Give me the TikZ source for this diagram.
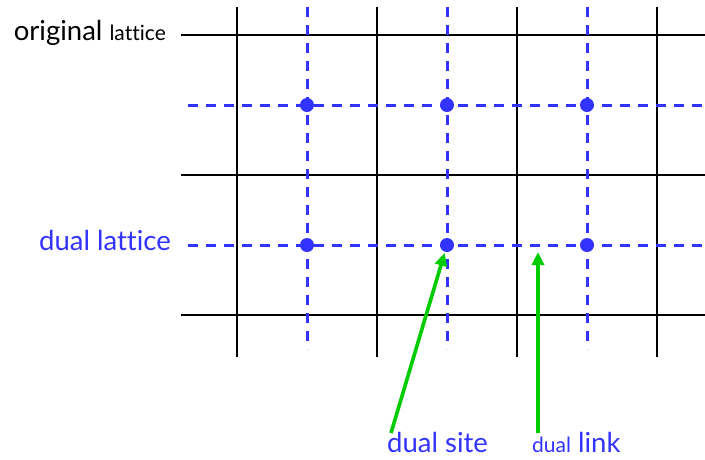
\documentclass[tikz,border=0pt]{standalone}
\usepackage{fontspec}
\setmainfont{Lato}[Ligatures=NoCommon]
\usetikzlibrary{arrows.meta}
\definecolor{dualblue}{RGB}{51,51,255}
\definecolor{ptrgreen}{RGB}{0,204,0}
\tikzset{
  origline/.style={draw=black, line width=2.2pt},
  dualline/.style={draw=dualblue, line width=3pt, dash pattern=on 10pt off 8pt},
  dualsite/.style={circle, fill=dualblue, minimum size=14pt, inner sep=0pt},
  pointer/.style={-{Triangle[length=13pt,width=12pt]}, line width=3.6pt, draw=ptrgreen, shorten >=1pt},
  lbl/.style={inner sep=0pt, font=\fontsize{27.5}{30}\selectfont},
  small/.style={font=\fontsize{21}{23}\selectfont}
}

\begin{document}
\begin{tikzpicture}[x=1pt, y=-1pt]
  \useasboundingbox (0,0) rectangle (705,459);
  % original lattice
  \foreach \x in {237,377,517,657}
    \draw[origline] (\x,7) -- (\x,357);
  \foreach \y in {35,175,315}
    \draw[origline] (181,\y) -- (705,\y);
  % dual lattice
  \foreach \x in {307,447,587}
    \draw[dualline] (\x,7) -- (\x,349);
  \foreach \y in {105,245}
    \draw[dualline] (188,\y) -- (705,\y);
  \foreach \x/\i in {307/1,447/2,587/3}
    \foreach \y/\j in {105/1,245/2}
      \node[dualsite] (s\i\j) at (\x,\y) {};
  \coordinate (link) at (538,245);

  % labels
  \node[lbl, anchor=base east] (origlbl) at (166,40) {original {\fontsize{21}{23}\selectfont lattice}};
  \node[lbl, anchor=base east, text=dualblue] (duallbl) at (171,250) {dual lattice};
  \node[lbl, anchor=base west, text=dualblue] (sitelbl) at (387,452) {dual site};
  \node[lbl, anchor=base west, text=dualblue] (linklbl) at (532,452) {{\fontsize{21}{23}\selectfont dual} link};
  \coordinate (sitefoot) at (391,433);
  \coordinate (linkfoot) at (538,433);

  % pointers
  \draw[pointer] (sitefoot) -- (s22);
  \draw[pointer, shorten >=7pt] (linkfoot) -- (link);
\end{tikzpicture}
\end{document}
